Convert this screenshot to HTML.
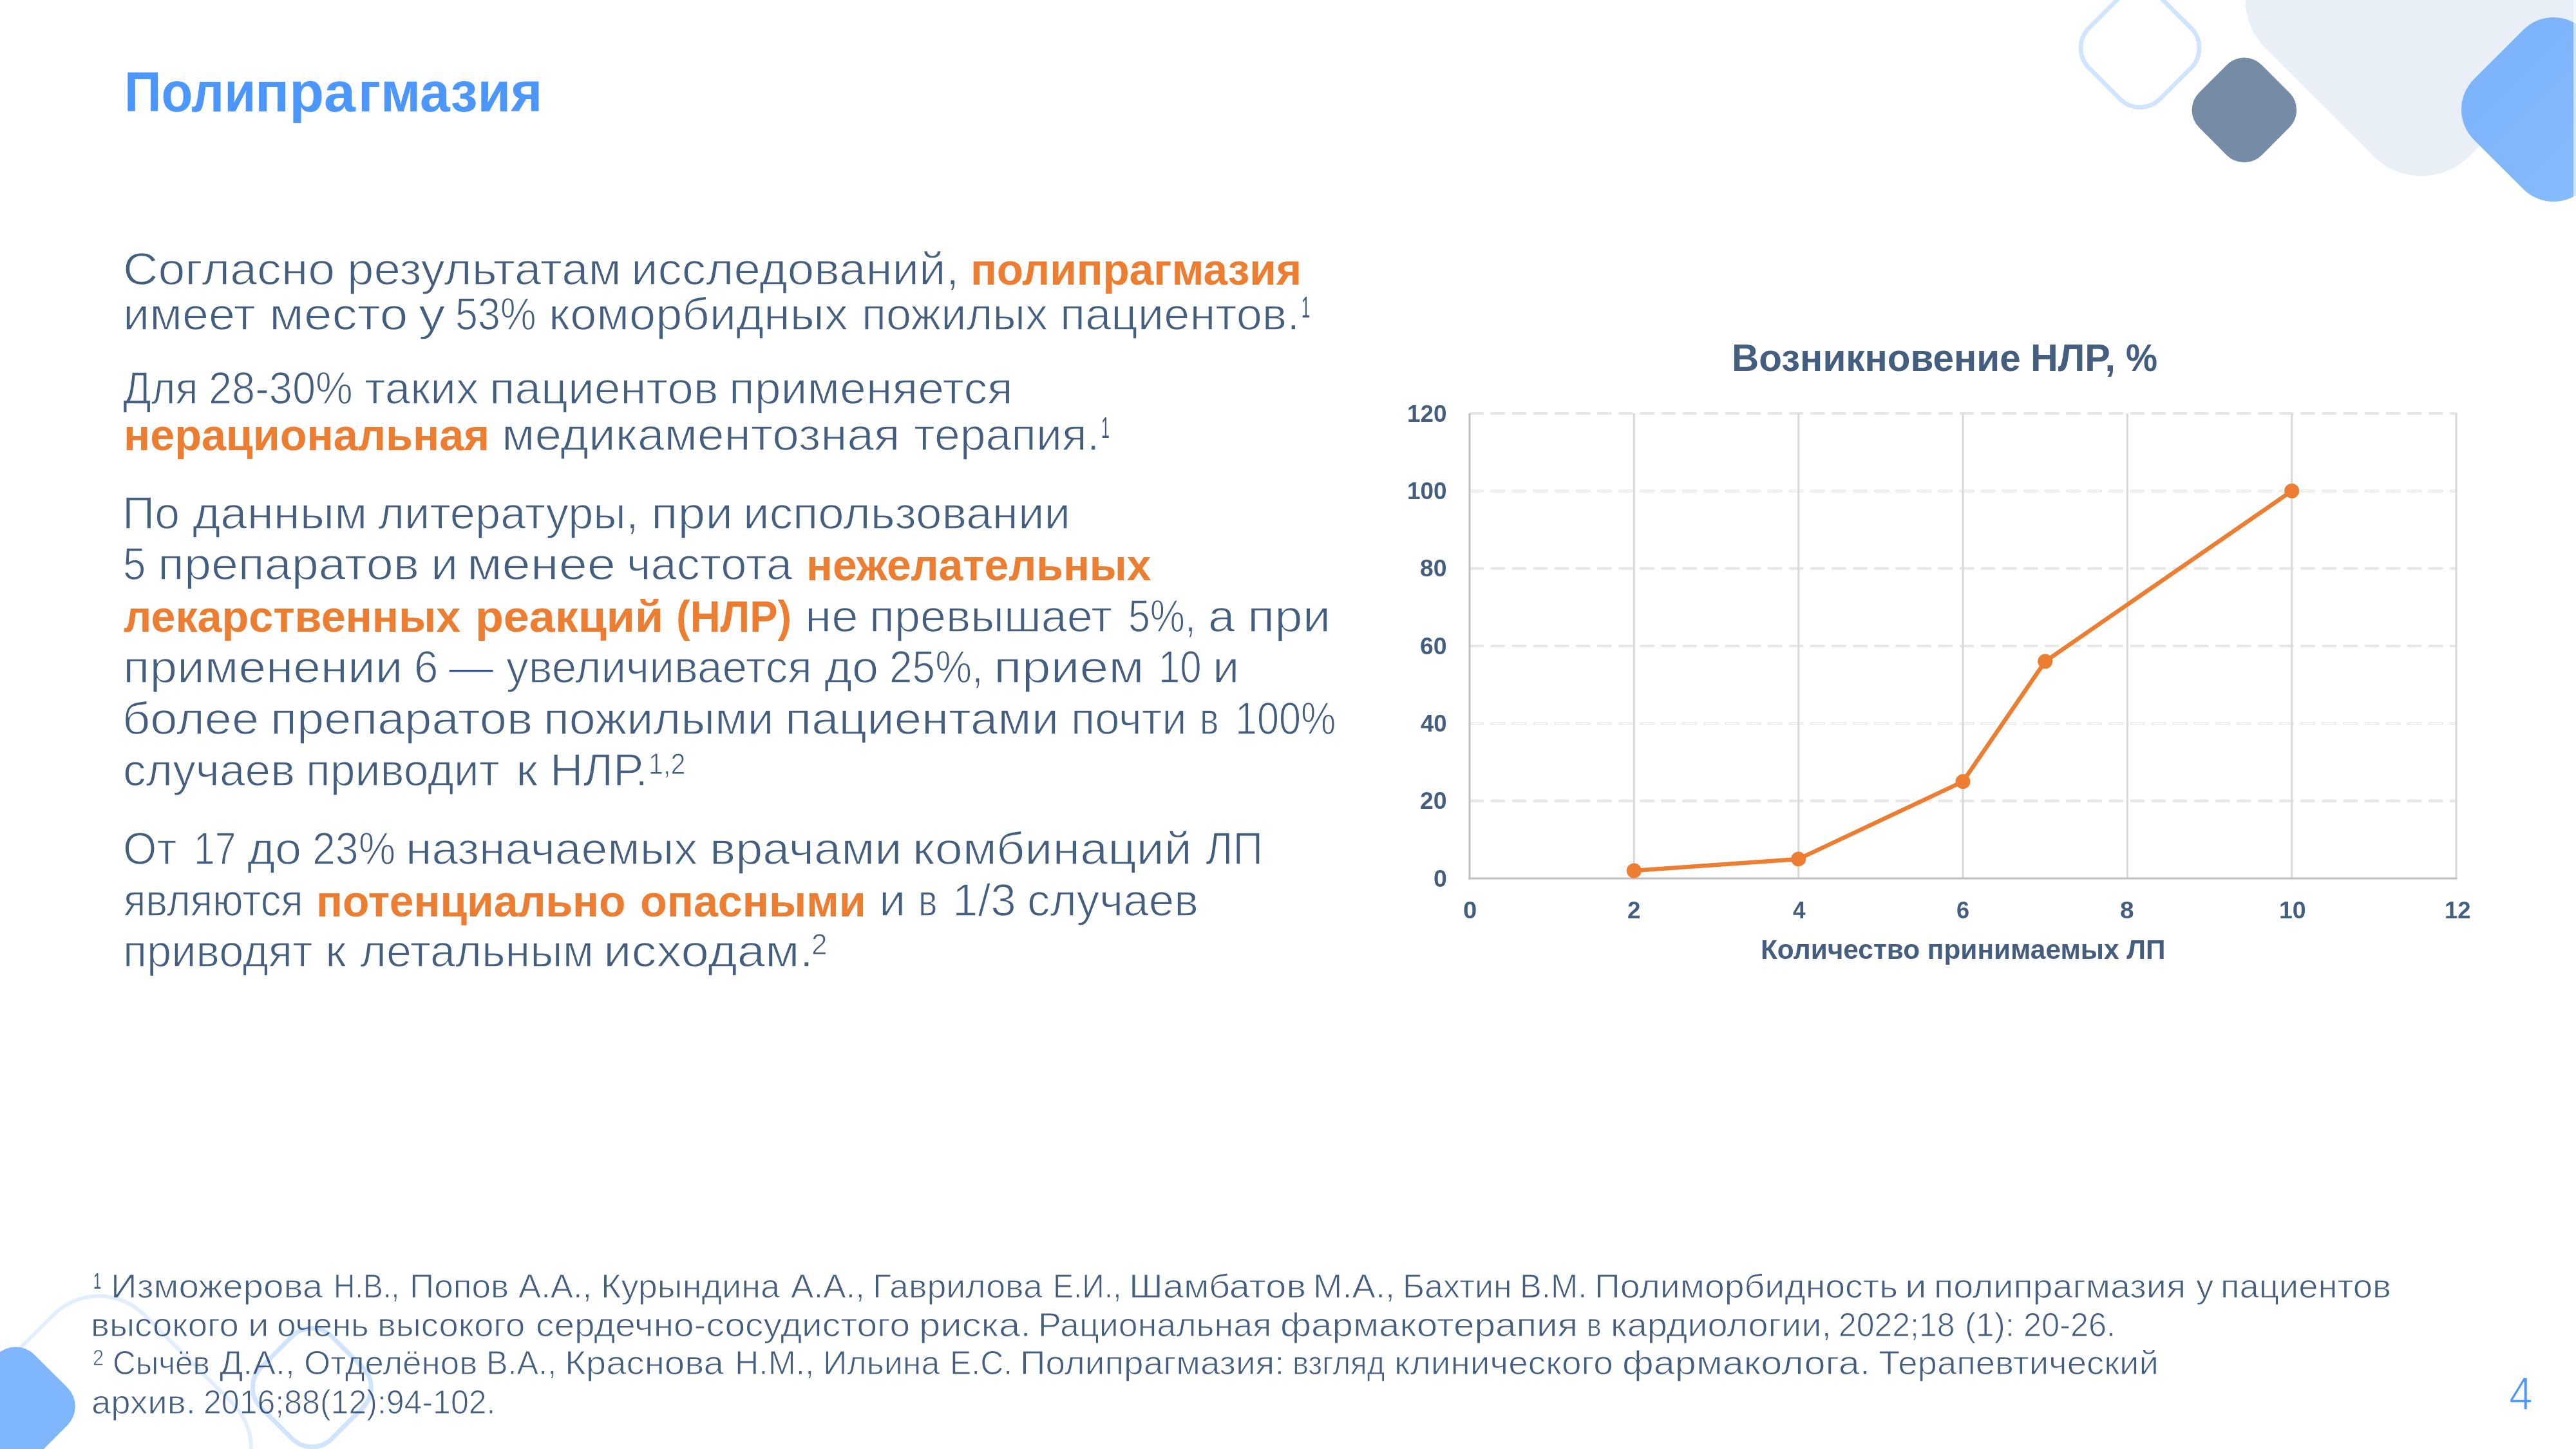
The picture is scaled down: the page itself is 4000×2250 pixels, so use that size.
<!DOCTYPE html>
<html><head><meta charset="utf-8"><title>Полипрагмазия</title>
<style>
html,body{margin:0;padding:0;background:#fff;}
body{width:4000px;height:2250px;position:relative;overflow:hidden;font-family:"Liberation Sans",sans-serif;}
svg{position:absolute;left:0;top:0;}
.t{position:absolute;white-space:nowrap;transform-origin:0 0;display:block;}
.mul{mix-blend-mode:multiply;pointer-events:none;}
.edge{position:absolute;right:0;top:0;width:4px;height:2250px;background:rgba(255,255,255,0.6);}
</style></head><body>
<svg width="4000" height="2250" viewBox="0 0 4000 2250">
<defs><linearGradient id="gb" x1="0" y1="0" x2="1" y2="0"><stop offset="0" stop-color="#7DB3FA"/><stop offset="1" stop-color="#86BBFC"/></linearGradient></defs>
<rect x="3535.8" y="-224.2" width="448.3" height="448.3" rx="105.5" ry="105.5" fill="#E9EFF7" stroke="none" stroke-width="0" transform="rotate(45 3760 0)" />
<rect x="3844.4" y="49.4" width="241.2" height="241.2" rx="66.5" ry="66.5" fill="url(#gb)" stroke="none" stroke-width="0" transform="rotate(45 3965 170)" />
<rect x="3416.1" y="102.1" width="137.5" height="137.5" rx="38.5" ry="38.5" fill="#768BA5" stroke="none" stroke-width="0" transform="rotate(45 3484.8 170.85)" />
<rect x="3245.1" y="-3.4" width="155.9" height="155.9" rx="44" ry="44" fill="none" stroke="#D1E4FE" stroke-width="6.8" transform="rotate(45 3323 74.5)" />
<line x1="2283.2" y1="1243.7" x2="3814.0" y2="1243.7" stroke="#E7E7E7" stroke-width="4.2" stroke-dasharray="19 14.1" stroke-linecap="round"/>
<line x1="2283.2" y1="1123.3" x2="3814.0" y2="1123.3" stroke="#DDDDDD" stroke-width="3.8" stroke-dasharray="19 14.1" stroke-linecap="round"/>
<line x1="2283.2" y1="1123.3" x2="3814.0" y2="1123.3" stroke="#FFFFFF" stroke-width="1.8" stroke-dasharray="19 14.1" stroke-linecap="round"/>
<line x1="2283.2" y1="1003.0" x2="3814.0" y2="1003.0" stroke="#E7E7E7" stroke-width="4.2" stroke-dasharray="19 14.1" stroke-linecap="round"/>
<line x1="2283.2" y1="882.7" x2="3814.0" y2="882.7" stroke="#E7E7E7" stroke-width="4.2" stroke-dasharray="19 14.1" stroke-linecap="round"/>
<line x1="2283.2" y1="762.3" x2="3814.0" y2="762.3" stroke="#DDDDDD" stroke-width="3.8" stroke-dasharray="19 14.1" stroke-linecap="round"/>
<line x1="2283.2" y1="762.3" x2="3814.0" y2="762.3" stroke="#FFFFFF" stroke-width="1.8" stroke-dasharray="19 14.1" stroke-linecap="round"/>
<line x1="2283.2" y1="642.0" x2="3814.0" y2="642.0" stroke="#E7E7E7" stroke-width="4.2" stroke-dasharray="19 14.1" stroke-linecap="round"/>
<line x1="2537.3" y1="642.0" x2="2537.3" y2="1364.0" stroke="#D9D9D9" stroke-width="3" />
<line x1="2792.7" y1="642.0" x2="2792.7" y2="1364.0" stroke="#D9D9D9" stroke-width="3" />
<line x1="3048.0" y1="642.0" x2="3048.0" y2="1364.0" stroke="#D9D9D9" stroke-width="3" />
<line x1="3303.3" y1="642.0" x2="3303.3" y2="1364.0" stroke="#D9D9D9" stroke-width="3" />
<line x1="3558.7" y1="642.0" x2="3558.7" y2="1364.0" stroke="#D9D9D9" stroke-width="3" />
<line x1="3814.0" y1="642.0" x2="3814.0" y2="1364.0" stroke="#D9D9D9" stroke-width="3" />
<line x1="2282.0" y1="642.0" x2="2282.0" y2="1365.5" stroke="#BFBFBF" stroke-width="3" />
<line x1="2280.5" y1="1364.0" x2="3815.5" y2="1364.0" stroke="#BFBFBF" stroke-width="3" />
<polyline fill="none" stroke="#ED7D31" stroke-width="6.5" stroke-linejoin="round" stroke-linecap="round" points="2537.3,1352.0 2792.7,1333.9 3048.0,1213.6 3175.7,1027.1 3558.7,762.3"/>
<circle cx="2537.3" cy="1352.0" r="11.5" fill="#ED7D31"/>
<circle cx="2792.7" cy="1333.9" r="11.5" fill="#ED7D31"/>
<circle cx="3048.0" cy="1213.6" r="11.5" fill="#ED7D31"/>
<circle cx="3175.7" cy="1027.1" r="11.5" fill="#ED7D31"/>
<circle cx="3558.7" cy="762.3" r="11.5" fill="#ED7D31"/>
</svg>
<span class="t" style="left:192.90px;top:99.05px;font-size:87px;line-height:87px;font-weight:700;color:#4C96FF;transform:scaleX(0.9194)">Поли</span>
<span class="t" style="left:395.52px;top:99.05px;font-size:87px;line-height:87px;font-weight:700;color:#4C96FF;transform:scaleX(1.0128)">пра</span>
<span class="t" style="left:555.71px;top:99.05px;font-size:87px;line-height:87px;font-weight:700;color:#4C96FF;transform:scaleX(0.9655)">гмазия</span>
<span class="t" style="left:190.64px;top:382.83px;font-size:70.5px;line-height:70.5px;font-weight:400;color:#435E7F;-webkit-text-stroke:1.41px #fff;transform:scaleX(1.0690)">Согласно</span>
<span class="t" style="left:539.03px;top:382.83px;font-size:70.5px;line-height:70.5px;font-weight:400;color:#435E7F;-webkit-text-stroke:1.41px #fff;transform:scaleX(1.0572)">результатам</span>
<span class="t" style="left:979.63px;top:382.83px;font-size:70.5px;line-height:70.5px;font-weight:400;color:#435E7F;-webkit-text-stroke:1.41px #fff;transform:scaleX(1.0565)">исследований,</span>
<span class="t" style="left:1506.79px;top:384.39px;font-size:69px;line-height:69px;font-weight:700;color:#ED7D31;transform:scaleX(0.9784)">полипрагмазия</span>
<span class="t" style="left:190.87px;top:453.23px;font-size:70.5px;line-height:70.5px;font-weight:400;color:#435E7F;-webkit-text-stroke:1.41px #fff;transform:scaleX(1.0472)">имеет</span>
<span class="t" style="left:418.47px;top:453.23px;font-size:70.5px;line-height:70.5px;font-weight:400;color:#435E7F;-webkit-text-stroke:1.41px #fff;transform:scaleX(1.1123)">место</span>
<span class="t" style="left:649.97px;top:453.23px;font-size:70.5px;line-height:70.5px;font-weight:400;color:#435E7F;-webkit-text-stroke:1.41px #fff;transform:scaleX(1.1766)">у</span>
<span class="t" style="left:706.59px;top:453.23px;font-size:70.5px;line-height:70.5px;font-weight:400;color:#435E7F;-webkit-text-stroke:1.41px #fff;transform:scaleX(0.8904)">53%</span>
<span class="t" style="left:851.57px;top:453.23px;font-size:70.5px;line-height:70.5px;font-weight:400;color:#435E7F;-webkit-text-stroke:1.41px #fff;transform:scaleX(1.0484)">коморбидных</span>
<span class="t" style="left:1337.91px;top:453.23px;font-size:70.5px;line-height:70.5px;font-weight:400;color:#435E7F;-webkit-text-stroke:1.41px #fff;transform:scaleX(0.9960)">пожилых</span>
<span class="t" style="left:1646.37px;top:453.23px;font-size:70.5px;line-height:70.5px;font-weight:400;color:#435E7F;-webkit-text-stroke:1.41px #fff;transform:scaleX(1.0257)">пациентов.</span>
<span class="t" style="left:2020.97px;top:454.26px;font-size:46px;line-height:46px;font-weight:400;color:#435E7F;transform:scaleX(0.5095)">1</span>
<span class="t" style="left:191.25px;top:567.63px;font-size:70.5px;line-height:70.5px;font-weight:400;color:#435E7F;-webkit-text-stroke:1.41px #fff;transform:scaleX(0.9171)">Для</span>
<span class="t" style="left:324.39px;top:567.63px;font-size:70.5px;line-height:70.5px;font-weight:400;color:#435E7F;-webkit-text-stroke:1.41px #fff;transform:scaleX(0.9211)">28-30%</span>
<span class="t" style="left:565.58px;top:567.63px;font-size:70.5px;line-height:70.5px;font-weight:400;color:#435E7F;-webkit-text-stroke:1.41px #fff;transform:scaleX(1.0068)">таких</span>
<span class="t" style="left:760.43px;top:567.63px;font-size:70.5px;line-height:70.5px;font-weight:400;color:#435E7F;-webkit-text-stroke:1.41px #fff;transform:scaleX(1.0352)">пациентов</span>
<span class="t" style="left:1132.00px;top:567.63px;font-size:70.5px;line-height:70.5px;font-weight:400;color:#435E7F;-webkit-text-stroke:1.41px #fff;transform:scaleX(1.0414)">применяется</span>
<span class="t" style="left:191.84px;top:641.19px;font-size:69px;line-height:69px;font-weight:700;color:#ED7D31;transform:scaleX(0.9892)">нерациональная</span>
<span class="t" style="left:778.51px;top:639.63px;font-size:70.5px;line-height:70.5px;font-weight:400;color:#435E7F;-webkit-text-stroke:1.41px #fff;transform:scaleX(1.0602)">медикаментозная</span>
<span class="t" style="left:1418.57px;top:639.63px;font-size:70.5px;line-height:70.5px;font-weight:400;color:#435E7F;-webkit-text-stroke:1.41px #fff;transform:scaleX(1.0150)">терапия.</span>
<span class="t" style="left:1710.39px;top:640.66px;font-size:46px;line-height:46px;font-weight:400;color:#435E7F;transform:scaleX(0.5048)">1</span>
<span class="t" style="left:190.16px;top:762.23px;font-size:70.5px;line-height:70.5px;font-weight:400;color:#435E7F;-webkit-text-stroke:1.41px #fff;transform:scaleX(0.9894)">По</span>
<span class="t" style="left:298.76px;top:762.23px;font-size:70.5px;line-height:70.5px;font-weight:400;color:#435E7F;-webkit-text-stroke:1.41px #fff;transform:scaleX(1.0542)">данным</span>
<span class="t" style="left:587.20px;top:762.23px;font-size:70.5px;line-height:70.5px;font-weight:400;color:#435E7F;-webkit-text-stroke:1.41px #fff;transform:scaleX(0.9985)">литературы,</span>
<span class="t" style="left:1011.38px;top:762.23px;font-size:70.5px;line-height:70.5px;font-weight:400;color:#435E7F;-webkit-text-stroke:1.41px #fff;transform:scaleX(1.0890)">при</span>
<span class="t" style="left:1154.15px;top:762.23px;font-size:70.5px;line-height:70.5px;font-weight:400;color:#435E7F;-webkit-text-stroke:1.41px #fff;transform:scaleX(1.0316)">использовании</span>
<span class="t" style="left:191.06px;top:841.33px;font-size:70.5px;line-height:70.5px;font-weight:400;color:#435E7F;-webkit-text-stroke:1.41px #fff;transform:scaleX(0.9021)">5</span>
<span class="t" style="left:245.16px;top:841.33px;font-size:70.5px;line-height:70.5px;font-weight:400;color:#435E7F;-webkit-text-stroke:1.41px #fff;transform:scaleX(1.0710)">препаратов</span>
<span class="t" style="left:669.04px;top:841.33px;font-size:70.5px;line-height:70.5px;font-weight:400;color:#435E7F;-webkit-text-stroke:1.41px #fff;transform:scaleX(1.0747)">и</span>
<span class="t" style="left:725.10px;top:841.33px;font-size:70.5px;line-height:70.5px;font-weight:400;color:#435E7F;-webkit-text-stroke:1.41px #fff;transform:scaleX(1.1266)">менее</span>
<span class="t" style="left:972.78px;top:841.33px;font-size:70.5px;line-height:70.5px;font-weight:400;color:#435E7F;-webkit-text-stroke:1.41px #fff;transform:scaleX(1.0242)">частота</span>
<span class="t" style="left:1252.07px;top:842.89px;font-size:69px;line-height:69px;font-weight:700;color:#ED7D31;transform:scaleX(0.9821)">нежелательных</span>
<span class="t" style="left:191.90px;top:923.09px;font-size:69px;line-height:69px;font-weight:700;color:#ED7D31;transform:scaleX(0.9891)">лекарственных</span>
<span class="t" style="left:737.84px;top:923.09px;font-size:69px;line-height:69px;font-weight:700;color:#ED7D31;transform:scaleX(1.0409)">реакций</span>
<span class="t" style="left:1049.77px;top:923.09px;font-size:69px;line-height:69px;font-weight:700;color:#ED7D31;transform:scaleX(0.9422)">(НЛР)</span>
<span class="t" style="left:1249.53px;top:921.53px;font-size:70.5px;line-height:70.5px;font-weight:400;color:#435E7F;-webkit-text-stroke:1.41px #fff;transform:scaleX(1.0564)">не</span>
<span class="t" style="left:1349.50px;top:921.53px;font-size:70.5px;line-height:70.5px;font-weight:400;color:#435E7F;-webkit-text-stroke:1.41px #fff;transform:scaleX(1.0208)">превышает</span>
<span class="t" style="left:1751.76px;top:921.53px;font-size:70.5px;line-height:70.5px;font-weight:400;color:#435E7F;-webkit-text-stroke:1.41px #fff;transform:scaleX(0.8632)">5%,</span>
<span class="t" style="left:1875.58px;top:921.53px;font-size:70.5px;line-height:70.5px;font-weight:400;color:#435E7F;-webkit-text-stroke:1.41px #fff;transform:scaleX(1.0593)">а</span>
<span class="t" style="left:1937.19px;top:921.53px;font-size:70.5px;line-height:70.5px;font-weight:400;color:#435E7F;-webkit-text-stroke:1.41px #fff;transform:scaleX(1.1068)">при</span>
<span class="t" style="left:190.69px;top:1001.13px;font-size:70.5px;line-height:70.5px;font-weight:400;color:#435E7F;-webkit-text-stroke:1.41px #fff;transform:scaleX(1.0856)">применении</span>
<span class="t" style="left:643.36px;top:1001.13px;font-size:70.5px;line-height:70.5px;font-weight:400;color:#435E7F;-webkit-text-stroke:1.41px #fff;transform:scaleX(0.9543)">6</span>
<span class="t" style="left:697.41px;top:1001.13px;font-size:70.5px;line-height:70.5px;font-weight:400;color:#2F5597;-webkit-text-stroke:1.41px #fff;transform:scaleX(0.9829)">—</span>
<span class="t" style="left:785.91px;top:1001.13px;font-size:70.5px;line-height:70.5px;font-weight:400;color:#435E7F;-webkit-text-stroke:1.41px #fff;transform:scaleX(0.9831)">увеличивается</span>
<span class="t" style="left:1279.76px;top:1001.13px;font-size:70.5px;line-height:70.5px;font-weight:400;color:#435E7F;-webkit-text-stroke:1.41px #fff;transform:scaleX(1.0479)">до</span>
<span class="t" style="left:1381.14px;top:1001.13px;font-size:70.5px;line-height:70.5px;font-weight:400;color:#435E7F;-webkit-text-stroke:1.41px #fff;transform:scaleX(0.9071)">25%,</span>
<span class="t" style="left:1543.02px;top:1001.13px;font-size:70.5px;line-height:70.5px;font-weight:400;color:#435E7F;-webkit-text-stroke:1.41px #fff;transform:scaleX(1.1431)">прием</span>
<span class="t" style="left:1798.54px;top:1001.13px;font-size:70.5px;line-height:70.5px;font-weight:400;color:#435E7F;-webkit-text-stroke:1.41px #fff;transform:scaleX(0.8510)">10</span>
<span class="t" style="left:1883.05px;top:1001.13px;font-size:70.5px;line-height:70.5px;font-weight:400;color:#435E7F;-webkit-text-stroke:1.41px #fff;transform:scaleX(1.0510)">и</span>
<span class="t" style="left:189.55px;top:1081.03px;font-size:70.5px;line-height:70.5px;font-weight:400;color:#435E7F;-webkit-text-stroke:1.41px #fff;transform:scaleX(1.0728)">более</span>
<span class="t" style="left:419.75px;top:1081.03px;font-size:70.5px;line-height:70.5px;font-weight:400;color:#435E7F;-webkit-text-stroke:1.41px #fff;transform:scaleX(1.0742)">препаратов</span>
<span class="t" style="left:843.89px;top:1081.03px;font-size:70.5px;line-height:70.5px;font-weight:400;color:#435E7F;-webkit-text-stroke:1.41px #fff;transform:scaleX(1.0435)">пожилыми</span>
<span class="t" style="left:1219.12px;top:1081.03px;font-size:70.5px;line-height:70.5px;font-weight:400;color:#435E7F;-webkit-text-stroke:1.41px #fff;transform:scaleX(1.0795)">пациентами</span>
<span class="t" style="left:1662.91px;top:1081.03px;font-size:70.5px;line-height:70.5px;font-weight:400;color:#435E7F;-webkit-text-stroke:1.41px #fff;transform:scaleX(0.9751)">почти</span>
<span class="t" style="left:1863.00px;top:1081.03px;font-size:70.5px;line-height:70.5px;font-weight:400;color:#435E7F;-webkit-text-stroke:1.41px #fff;transform:scaleX(0.7874)">в</span>
<span class="t" style="left:1918.05px;top:1081.03px;font-size:70.5px;line-height:70.5px;font-weight:400;color:#435E7F;-webkit-text-stroke:1.41px #fff;transform:scaleX(0.8675)">100%</span>
<span class="t" style="left:190.86px;top:1160.63px;font-size:70.5px;line-height:70.5px;font-weight:400;color:#435E7F;-webkit-text-stroke:1.41px #fff;transform:scaleX(1.0106)">случаев</span>
<span class="t" style="left:475.35px;top:1160.63px;font-size:70.5px;line-height:70.5px;font-weight:400;color:#435E7F;-webkit-text-stroke:1.41px #fff;transform:scaleX(0.9893)">приводит</span>
<span class="t" style="left:800.83px;top:1160.63px;font-size:70.5px;line-height:70.5px;font-weight:400;color:#435E7F;-webkit-text-stroke:1.41px #fff;transform:scaleX(1.0982)">к</span>
<span class="t" style="left:853.84px;top:1160.63px;font-size:70.5px;line-height:70.5px;font-weight:400;color:#435E7F;-webkit-text-stroke:1.41px #fff;transform:scaleX(1.0096)">НЛР.</span>
<span class="t" style="left:1006.80px;top:1163.12px;font-size:46px;line-height:46px;font-weight:400;color:#435E7F;-webkit-text-stroke:0.92px #fff;transform:scaleX(0.8966)">1,2</span>
<span class="t" style="left:191.06px;top:1282.83px;font-size:70.5px;line-height:70.5px;font-weight:400;color:#435E7F;-webkit-text-stroke:1.41px #fff;transform:scaleX(0.9560)">От</span>
<span class="t" style="left:300.54px;top:1282.83px;font-size:70.5px;line-height:70.5px;font-weight:400;color:#435E7F;-webkit-text-stroke:1.41px #fff;transform:scaleX(0.8343)">17</span>
<span class="t" style="left:384.16px;top:1282.83px;font-size:70.5px;line-height:70.5px;font-weight:400;color:#435E7F;-webkit-text-stroke:1.41px #fff;transform:scaleX(1.0466)">до</span>
<span class="t" style="left:485.11px;top:1282.83px;font-size:70.5px;line-height:70.5px;font-weight:400;color:#435E7F;-webkit-text-stroke:1.41px #fff;transform:scaleX(0.9148)">23%</span>
<span class="t" style="left:629.61px;top:1282.83px;font-size:70.5px;line-height:70.5px;font-weight:400;color:#435E7F;-webkit-text-stroke:1.41px #fff;transform:scaleX(1.0396)">назначаемых</span>
<span class="t" style="left:1101.95px;top:1282.83px;font-size:70.5px;line-height:70.5px;font-weight:400;color:#435E7F;-webkit-text-stroke:1.41px #fff;transform:scaleX(1.0733)">врачами</span>
<span class="t" style="left:1417.04px;top:1282.83px;font-size:70.5px;line-height:70.5px;font-weight:400;color:#435E7F;-webkit-text-stroke:1.41px #fff;transform:scaleX(1.0968)">комбинаций</span>
<span class="t" style="left:1871.85px;top:1282.83px;font-size:70.5px;line-height:70.5px;font-weight:400;color:#435E7F;-webkit-text-stroke:1.41px #fff;transform:scaleX(0.9190)">ЛП</span>
<span class="t" style="left:192.07px;top:1363.23px;font-size:70.5px;line-height:70.5px;font-weight:400;color:#435E7F;-webkit-text-stroke:1.41px #fff;transform:scaleX(0.9004)">являются</span>
<span class="t" style="left:490.77px;top:1364.79px;font-size:69px;line-height:69px;font-weight:700;color:#ED7D31;transform:scaleX(0.9820)">потенциально</span>
<span class="t" style="left:994.32px;top:1364.79px;font-size:69px;line-height:69px;font-weight:700;color:#ED7D31;transform:scaleX(0.9890)">опасными</span>
<span class="t" style="left:1364.85px;top:1363.23px;font-size:70.5px;line-height:70.5px;font-weight:400;color:#435E7F;-webkit-text-stroke:1.41px #fff;transform:scaleX(1.0510)">и</span>
<span class="t" style="left:1426.30px;top:1363.23px;font-size:70.5px;line-height:70.5px;font-weight:400;color:#435E7F;-webkit-text-stroke:1.41px #fff;transform:scaleX(0.7874)">в</span>
<span class="t" style="left:1478.55px;top:1363.23px;font-size:70.5px;line-height:70.5px;font-weight:400;color:#435E7F;-webkit-text-stroke:1.41px #fff;transform:scaleX(1.0080)">1/3</span>
<span class="t" style="left:1595.07px;top:1363.23px;font-size:70.5px;line-height:70.5px;font-weight:400;color:#435E7F;-webkit-text-stroke:1.41px #fff;transform:scaleX(1.0063)">случаев</span>
<span class="t" style="left:191.22px;top:1441.83px;font-size:70.5px;line-height:70.5px;font-weight:400;color:#435E7F;-webkit-text-stroke:1.41px #fff;transform:scaleX(0.9724)">приводят</span>
<span class="t" style="left:505.25px;top:1441.83px;font-size:70.5px;line-height:70.5px;font-weight:400;color:#435E7F;-webkit-text-stroke:1.41px #fff;transform:scaleX(1.0530)">к</span>
<span class="t" style="left:558.80px;top:1441.83px;font-size:70.5px;line-height:70.5px;font-weight:400;color:#435E7F;-webkit-text-stroke:1.41px #fff;transform:scaleX(0.9956)">летальным</span>
<span class="t" style="left:936.70px;top:1441.83px;font-size:70.5px;line-height:70.5px;font-weight:400;color:#435E7F;-webkit-text-stroke:1.41px #fff;transform:scaleX(1.1054)">исходам.</span>
<span class="t" style="left:1259.94px;top:1443.32px;font-size:46px;line-height:46px;font-weight:400;color:#435E7F;-webkit-text-stroke:0.92px #fff;transform:scaleX(0.9583)">2</span>
<span class="t" style="left:144.75px;top:1970.87px;font-size:35px;line-height:35px;font-weight:400;color:#435E7F;transform:scaleX(0.6250)">1</span>
<span class="t" style="left:171.64px;top:1972.42px;font-size:51.5px;line-height:51.5px;font-weight:400;color:#435E7F;-webkit-text-stroke:1.03px #fff;transform:scaleX(1.0978)">Изможерова</span>
<span class="t" style="left:518.07px;top:1972.42px;font-size:51.5px;line-height:51.5px;font-weight:400;color:#435E7F;-webkit-text-stroke:1.03px #fff;transform:scaleX(0.8932)">Н.В.,</span>
<span class="t" style="left:635.85px;top:1972.42px;font-size:51.5px;line-height:51.5px;font-weight:400;color:#435E7F;-webkit-text-stroke:1.03px #fff;transform:scaleX(1.0303)">Попов</span>
<span class="t" style="left:804.97px;top:1972.42px;font-size:51.5px;line-height:51.5px;font-weight:400;color:#435E7F;-webkit-text-stroke:1.03px #fff;transform:scaleX(1.0227)">А.А.,</span>
<span class="t" style="left:932.77px;top:1972.42px;font-size:51.5px;line-height:51.5px;font-weight:400;color:#435E7F;-webkit-text-stroke:1.03px #fff;transform:scaleX(1.0484)">Курындина</span>
<span class="t" style="left:1227.57px;top:1972.42px;font-size:51.5px;line-height:51.5px;font-weight:400;color:#435E7F;-webkit-text-stroke:1.03px #fff;transform:scaleX(1.0302)">А.А.,</span>
<span class="t" style="left:1354.59px;top:1972.42px;font-size:51.5px;line-height:51.5px;font-weight:400;color:#435E7F;-webkit-text-stroke:1.03px #fff;transform:scaleX(1.0422)">Гаврилова</span>
<span class="t" style="left:1634.59px;top:1972.42px;font-size:51.5px;line-height:51.5px;font-weight:400;color:#435E7F;-webkit-text-stroke:1.03px #fff;transform:scaleX(0.9319)">Е.И.,</span>
<span class="t" style="left:1752.94px;top:1972.42px;font-size:51.5px;line-height:51.5px;font-weight:400;color:#435E7F;-webkit-text-stroke:1.03px #fff;transform:scaleX(1.1204)">Шамбатов</span>
<span class="t" style="left:2039.02px;top:1972.42px;font-size:51.5px;line-height:51.5px;font-weight:400;color:#435E7F;-webkit-text-stroke:1.03px #fff;transform:scaleX(1.0583)">М.А.,</span>
<span class="t" style="left:2177.95px;top:1972.42px;font-size:51.5px;line-height:51.5px;font-weight:400;color:#435E7F;-webkit-text-stroke:1.03px #fff;transform:scaleX(1.0073)">Бахтин</span>
<span class="t" style="left:2360.45px;top:1972.42px;font-size:51.5px;line-height:51.5px;font-weight:400;color:#435E7F;-webkit-text-stroke:1.03px #fff;transform:scaleX(0.9852)">В.М.</span>
<span class="t" style="left:2475.74px;top:1972.42px;font-size:51.5px;line-height:51.5px;font-weight:400;color:#435E7F;-webkit-text-stroke:1.03px #fff;transform:scaleX(1.0765)">Полиморбидность</span>
<span class="t" style="left:2958.39px;top:1972.42px;font-size:51.5px;line-height:51.5px;font-weight:400;color:#435E7F;-webkit-text-stroke:1.03px #fff;transform:scaleX(1.1698)">и</span>
<span class="t" style="left:3002.70px;top:1972.42px;font-size:51.5px;line-height:51.5px;font-weight:400;color:#435E7F;-webkit-text-stroke:1.03px #fff;transform:scaleX(1.0806)">полипрагмазия</span>
<span class="t" style="left:3409.66px;top:1972.42px;font-size:51.5px;line-height:51.5px;font-weight:400;color:#435E7F;-webkit-text-stroke:1.03px #fff;transform:scaleX(1.0573)">у</span>
<span class="t" style="left:3448.49px;top:1972.42px;font-size:51.5px;line-height:51.5px;font-weight:400;color:#435E7F;-webkit-text-stroke:1.03px #fff;transform:scaleX(1.0562)">пациентов</span>
<span class="t" style="left:141.08px;top:2032.12px;font-size:51.5px;line-height:51.5px;font-weight:400;color:#435E7F;-webkit-text-stroke:1.03px #fff;transform:scaleX(1.0575)">высокого</span>
<span class="t" style="left:385.32px;top:2032.12px;font-size:51.5px;line-height:51.5px;font-weight:400;color:#435E7F;-webkit-text-stroke:1.03px #fff;transform:scaleX(1.1334)">и</span>
<span class="t" style="left:430.20px;top:2032.12px;font-size:51.5px;line-height:51.5px;font-weight:400;color:#435E7F;-webkit-text-stroke:1.03px #fff;transform:scaleX(1.0330)">очень</span>
<span class="t" style="left:586.29px;top:2032.12px;font-size:51.5px;line-height:51.5px;font-weight:400;color:#435E7F;-webkit-text-stroke:1.03px #fff;transform:scaleX(1.0542)">высокого</span>
<span class="t" style="left:831.83px;top:2032.12px;font-size:51.5px;line-height:51.5px;font-weight:400;color:#435E7F;-webkit-text-stroke:1.03px #fff;transform:scaleX(1.1024)">сердечно-сосудистого</span>
<span class="t" style="left:1426.62px;top:2032.12px;font-size:51.5px;line-height:51.5px;font-weight:400;color:#435E7F;-webkit-text-stroke:1.03px #fff;transform:scaleX(1.1617)">риска.</span>
<span class="t" style="left:1611.59px;top:2032.12px;font-size:51.5px;line-height:51.5px;font-weight:400;color:#435E7F;-webkit-text-stroke:1.03px #fff;transform:scaleX(1.0436)">Рациональная</span>
<span class="t" style="left:1988.05px;top:2032.12px;font-size:51.5px;line-height:51.5px;font-weight:400;color:#435E7F;-webkit-text-stroke:1.03px #fff;transform:scaleX(1.1334)">фармакотерапия</span>
<span class="t" style="left:2464.09px;top:2032.12px;font-size:51.5px;line-height:51.5px;font-weight:400;color:#435E7F;-webkit-text-stroke:1.03px #fff;transform:scaleX(0.8284)">в</span>
<span class="t" style="left:2500.89px;top:2032.12px;font-size:51.5px;line-height:51.5px;font-weight:400;color:#435E7F;-webkit-text-stroke:1.03px #fff;transform:scaleX(1.0853)">кардиологии,</span>
<span class="t" style="left:2854.56px;top:2032.12px;font-size:51.5px;line-height:51.5px;font-weight:400;color:#435E7F;-webkit-text-stroke:1.03px #fff;transform:scaleX(0.9692)">2022;18</span>
<span class="t" style="left:3050.80px;top:2032.12px;font-size:51.5px;line-height:51.5px;font-weight:400;color:#435E7F;-webkit-text-stroke:1.03px #fff;transform:scaleX(0.9969)">(1):</span>
<span class="t" style="left:3142.24px;top:2032.12px;font-size:51.5px;line-height:51.5px;font-weight:400;color:#435E7F;-webkit-text-stroke:1.03px #fff;transform:scaleX(0.9799)">20-26.</span>
<span class="t" style="left:143.62px;top:2090.02px;font-size:35px;line-height:35px;font-weight:400;color:#435E7F;-webkit-text-stroke:0.70px #fff;transform:scaleX(0.8773)">2</span>
<span class="t" style="left:174.98px;top:2091.22px;font-size:51.5px;line-height:51.5px;font-weight:400;color:#435E7F;-webkit-text-stroke:1.03px #fff;transform:scaleX(0.9610)">Сычёв</span>
<span class="t" style="left:341.06px;top:2091.22px;font-size:51.5px;line-height:51.5px;font-weight:400;color:#435E7F;-webkit-text-stroke:1.03px #fff;transform:scaleX(1.0429)">Д.А.,</span>
<span class="t" style="left:472.12px;top:2091.22px;font-size:51.5px;line-height:51.5px;font-weight:400;color:#435E7F;-webkit-text-stroke:1.03px #fff;transform:scaleX(1.0277)">Отделёнов</span>
<span class="t" style="left:755.28px;top:2091.22px;font-size:51.5px;line-height:51.5px;font-weight:400;color:#435E7F;-webkit-text-stroke:1.03px #fff;transform:scaleX(0.9786)">В.А.,</span>
<span class="t" style="left:877.36px;top:2091.22px;font-size:51.5px;line-height:51.5px;font-weight:400;color:#435E7F;-webkit-text-stroke:1.03px #fff;transform:scaleX(1.0943)">Краснова</span>
<span class="t" style="left:1141.27px;top:2091.22px;font-size:51.5px;line-height:51.5px;font-weight:400;color:#435E7F;-webkit-text-stroke:1.03px #fff;transform:scaleX(1.0037)">Н.М.,</span>
<span class="t" style="left:1277.95px;top:2091.22px;font-size:51.5px;line-height:51.5px;font-weight:400;color:#435E7F;-webkit-text-stroke:1.03px #fff;transform:scaleX(1.0087)">Ильина</span>
<span class="t" style="left:1475.32px;top:2091.22px;font-size:51.5px;line-height:51.5px;font-weight:400;color:#435E7F;-webkit-text-stroke:1.03px #fff;transform:scaleX(0.9700)">Е.С.</span>
<span class="t" style="left:1583.59px;top:2091.22px;font-size:51.5px;line-height:51.5px;font-weight:400;color:#435E7F;-webkit-text-stroke:1.03px #fff;transform:scaleX(1.0654)">Полипрагмазия:</span>
<span class="t" style="left:2006.77px;top:2091.22px;font-size:51.5px;line-height:51.5px;font-weight:400;color:#435E7F;-webkit-text-stroke:1.03px #fff;transform:scaleX(0.9180)">взгляд</span>
<span class="t" style="left:2165.15px;top:2091.22px;font-size:51.5px;line-height:51.5px;font-weight:400;color:#435E7F;-webkit-text-stroke:1.03px #fff;transform:scaleX(1.0674)">клинического</span>
<span class="t" style="left:2519.20px;top:2091.22px;font-size:51.5px;line-height:51.5px;font-weight:400;color:#435E7F;-webkit-text-stroke:1.03px #fff;transform:scaleX(1.1528)">фармаколога.</span>
<span class="t" style="left:2916.60px;top:2091.22px;font-size:51.5px;line-height:51.5px;font-weight:400;color:#435E7F;-webkit-text-stroke:1.03px #fff;transform:scaleX(1.0586)">Терапевтический</span>
<span class="t" style="left:142.14px;top:2151.62px;font-size:51.5px;line-height:51.5px;font-weight:400;color:#435E7F;-webkit-text-stroke:1.03px #fff;transform:scaleX(1.0587)">архив.</span>
<span class="t" style="left:315.86px;top:2151.62px;font-size:51.5px;line-height:51.5px;font-weight:400;color:#435E7F;-webkit-text-stroke:1.03px #fff;transform:scaleX(0.9717)">2016;88(12):94-102.</span>
<span class="t" style="left:3896.43px;top:2127.14px;font-size:73px;line-height:73px;font-weight:400;color:#4C96FF;-webkit-text-stroke:1.46px #fff;transform:scaleX(0.9059)">4</span>
<span class="t" style="left:2688.61px;top:526.11px;font-size:60px;line-height:60px;font-weight:700;color:#435E7F;transform:scaleX(0.9733)">Возникновение</span>
<span class="t" style="left:3152.95px;top:526.11px;font-size:60px;line-height:60px;font-weight:700;color:#435E7F;transform:scaleX(0.9869)">НЛР,</span>
<span class="t" style="left:3300.58px;top:526.11px;font-size:60px;line-height:60px;font-weight:700;color:#435E7F;transform:scaleX(0.9196)">%</span>
<span class="t" style="left:2734.33px;top:1453.00px;font-size:43px;line-height:43px;font-weight:700;color:#435E7F;transform:scaleX(0.9858)">Количество принимаемых ЛП</span>
<span class="t" style="left:2225.99px;top:1345.68px;font-size:37px;line-height:37px;font-weight:700;color:#435E7F;transform:scaleX(1.0105)">0</span>
<span class="t" style="left:2205.19px;top:1225.35px;font-size:37px;line-height:37px;font-weight:700;color:#435E7F;transform:scaleX(1.0107)">20</span>
<span class="t" style="left:2206.20px;top:1105.01px;font-size:37px;line-height:37px;font-weight:700;color:#435E7F;transform:scaleX(0.9858)">40</span>
<span class="t" style="left:2205.19px;top:984.68px;font-size:37px;line-height:37px;font-weight:700;color:#435E7F;transform:scaleX(1.0107)">60</span>
<span class="t" style="left:2205.19px;top:864.35px;font-size:37px;line-height:37px;font-weight:700;color:#435E7F;transform:scaleX(1.0107)">80</span>
<span class="t" style="left:2185.21px;top:744.01px;font-size:37px;line-height:37px;font-weight:700;color:#435E7F;transform:scaleX(0.9974)">100</span>
<span class="t" style="left:2185.21px;top:623.68px;font-size:37px;line-height:37px;font-weight:700;color:#435E7F;transform:scaleX(0.9974)">120</span>
<span class="t" style="left:2271.97px;top:1395.08px;font-size:37px;line-height:37px;font-weight:700;color:#435E7F;transform:scaleX(1.0316)">0</span>
<span class="t" style="left:2527.41px;top:1395.08px;font-size:37px;line-height:37px;font-weight:700;color:#435E7F;transform:scaleX(0.9947)">2</span>
<span class="t" style="left:2783.50px;top:1395.08px;font-size:37px;line-height:37px;font-weight:700;color:#435E7F;transform:scaleX(0.9476)">4</span>
<span class="t" style="left:3038.02px;top:1395.08px;font-size:37px;line-height:37px;font-weight:700;color:#435E7F;transform:scaleX(0.9789)">6</span>
<span class="t" style="left:3292.45px;top:1395.08px;font-size:37px;line-height:37px;font-weight:700;color:#435E7F;transform:scaleX(1.0474)">8</span>
<span class="t" style="left:3538.87px;top:1395.08px;font-size:37px;line-height:37px;font-weight:700;color:#435E7F;transform:scaleX(1.0135)">10</span>
<span class="t" style="left:3795.72px;top:1395.08px;font-size:37px;line-height:37px;font-weight:700;color:#435E7F;transform:scaleX(0.9876)">12</span>
<svg class="mul" width="4000" height="2250" viewBox="0 0 4000 2250">
<rect x="-42.9" y="2052.6" width="392.7" height="392.7" rx="99.5" ry="99.5" fill="none" stroke="#E3EEFD" stroke-width="6" transform="rotate(45 153.5 2249)" />
<rect x="406.4" y="2076.6" width="155.9" height="155.9" rx="44" ry="44" fill="none" stroke="#D1E4FE" stroke-width="7" transform="rotate(45 484.3 2154.5)" />
</svg>
<svg width="4000" height="2250" viewBox="0 0 4000 2250">
<rect x="-53.3" y="2106.4" width="155.1" height="155.1" rx="41.5" ry="41.5" fill="#80B6FB" stroke="none" stroke-width="0" transform="rotate(45 24.25 2184)" />
</svg>
<div class="edge"></div>
</body></html>
